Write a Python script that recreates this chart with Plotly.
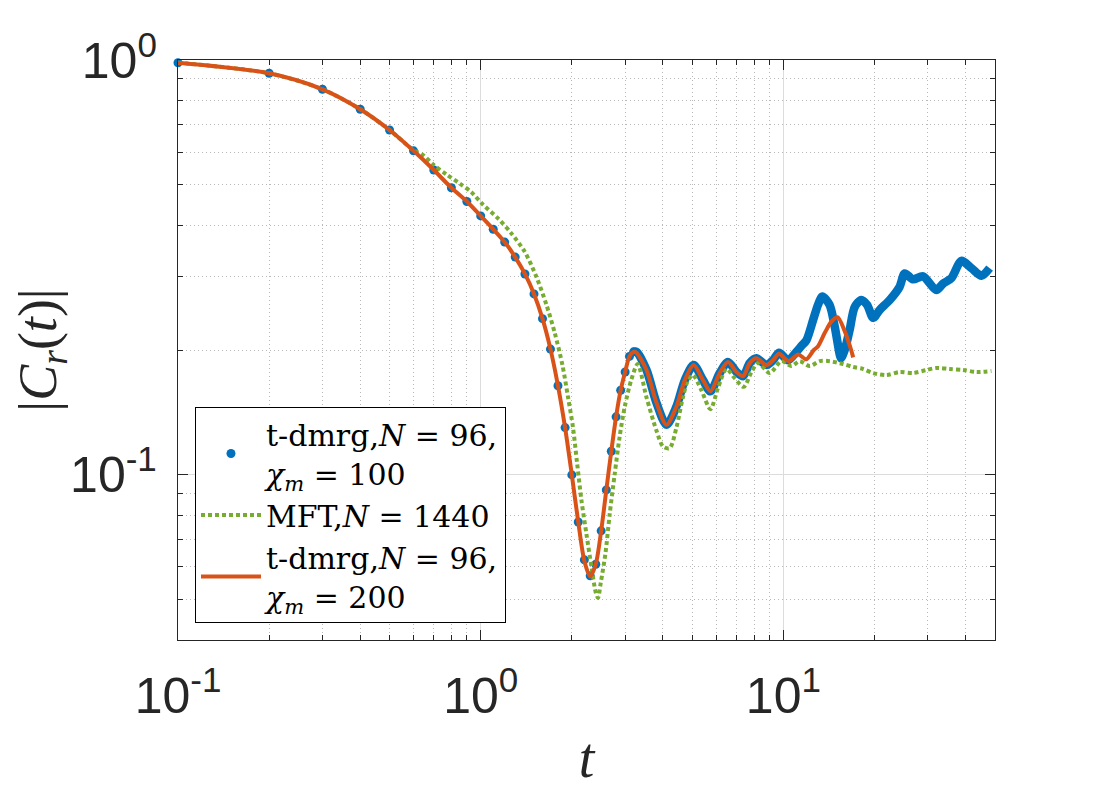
import math
import plotly.graph_objects as go

# t-dmrg, N = 96, chi_m = 100 : individual points (dt = 0.1) up to t = 3.2
dmrg100_t = [0.1, 0.2, 0.3, 0.4, 0.5, 0.6, 0.7, 0.8, 0.9, 1.0,
             1.1, 1.2, 1.3, 1.4, 1.5, 1.6, 1.7, 1.8, 1.9, 2.0,
             2.1, 2.2, 2.3, 2.4, 2.5, 2.6, 2.7, 2.8, 2.9, 3.0,
             3.1, 3.2]
dmrg100_v = [0.985, 0.929, 0.850, 0.761, 0.678, 0.604, 0.543, 0.492, 0.456, 0.421,
             0.391, 0.364, 0.335, 0.305, 0.273, 0.238, 0.201, 0.164, 0.130, 0.100,
             0.077, 0.0624, 0.0571, 0.0609, 0.0733, 0.092, 0.114, 0.138, 0.160, 0.177,
             0.193, 0.198]

# same run, t > 3.2, where the points overlap into a thick band
dmrg100_late_t = [3.2, 3.27, 3.53, 3.81, 4.11, 4.43, 4.72, 5.05, 5.43, 5.74,
                  6.16, 6.56, 7.0, 7.36, 7.74, 8.14, 8.79, 9.24, 9.67, 10.36,
                  11.04, 11.5, 11.91, 12.53, 13.01, 13.45, 14.2, 14.77, 15.35, 15.5,
                  15.94, 16.56, 17.2, 18.1, 18.9, 19.8, 20.81, 22.45, 24.2, 25.17,
                  26.8, 28.92, 32.0, 33.68, 35.89, 38.73, 41.8, 45.1, 48.0]
dmrg100_late_v = [0.198, 0.198, 0.179, 0.149, 0.132, 0.146, 0.169, 0.184, 0.169, 0.159,
                  0.176, 0.187, 0.177, 0.173, 0.186, 0.191, 0.184, 0.189, 0.197, 0.189,
                  0.198, 0.205, 0.211, 0.236, 0.257, 0.269, 0.257, 0.228, 0.195, 0.191,
                  0.200, 0.224, 0.254, 0.264, 0.257, 0.239, 0.250, 0.264, 0.284, 0.306,
                  0.296, 0.301, 0.279, 0.289, 0.298, 0.328, 0.315, 0.302, 0.315]

# MFT, N = 1440
mft_t = [0.1, 0.2, 0.3, 0.4, 0.5, 0.6, 0.645, 0.7, 0.77, 0.852,
         0.932, 1.018, 1.141, 1.263, 1.398, 1.528, 1.649, 1.756, 1.862, 1.943,
         2.018, 2.081, 2.151, 2.235, 2.322, 2.40, 2.44, 2.491, 2.582, 2.669,
         2.772, 2.879, 2.991, 3.147, 3.3, 3.527, 3.805, 4.003, 4.211, 4.431,
         4.659, 4.839, 5.026, 5.359, 5.739, 6.08, 6.482, 6.904, 7.393, 7.84,
         8.245, 9.01, 9.85, 10.63, 11.32, 12.22, 13.18, 14.22, 15.74, 16.98,
         18.32, 19.77, 21.89, 24.23, 26.81, 29.68, 32.03, 35.43, 39.21, 43.42,
         48.66]
mft_v = [0.985, 0.929, 0.850, 0.761, 0.678, 0.606, 0.590, 0.558, 0.530, 0.504,
         0.480, 0.448, 0.415, 0.382, 0.345, 0.300, 0.257, 0.220, 0.184, 0.154,
         0.130, 0.107, 0.087, 0.072, 0.060, 0.052, 0.0505, 0.0548, 0.0646, 0.0807,
         0.1007, 0.124, 0.146, 0.170, 0.185, 0.154, 0.128, 0.117, 0.116, 0.130,
         0.154, 0.169, 0.174, 0.160, 0.144, 0.162, 0.180, 0.171, 0.163, 0.177,
         0.186, 0.176, 0.188, 0.183, 0.188, 0.183, 0.188, 0.188, 0.185, 0.182,
         0.180, 0.176, 0.174, 0.177, 0.176, 0.179, 0.181, 0.180, 0.179, 0.177,
         0.178]

# t-dmrg, N = 96, chi_m = 200
dmrg200_t = [0.1, 0.2, 0.3, 0.4, 0.5, 0.6, 0.7, 0.8, 0.9, 1.0,
             1.1, 1.2, 1.3, 1.4, 1.5, 1.6, 1.7, 1.8, 1.9, 2.0,
             2.1, 2.2, 2.3, 2.4, 2.5, 2.6, 2.7, 2.8, 2.9, 3.0,
             3.1, 3.2, 3.27, 3.53, 3.81, 4.11, 4.43, 4.72, 5.05, 5.43,
             5.74, 6.16, 6.56, 7.0, 7.36, 7.74, 8.14, 8.79, 9.24, 9.67,
             10.4, 11.2, 11.9, 12.6, 13.0, 13.7, 14.4, 15.1, 15.9, 16.6,
             17.0]
dmrg200_v = [0.985, 0.929, 0.850, 0.761, 0.678, 0.604, 0.543, 0.492, 0.456, 0.421,
             0.391, 0.364, 0.335, 0.305, 0.273, 0.238, 0.201, 0.164, 0.130, 0.100,
             0.077, 0.062, 0.0569, 0.061, 0.0733, 0.092, 0.114, 0.138, 0.160, 0.177,
             0.193, 0.198, 0.197, 0.179, 0.149, 0.132, 0.146, 0.169, 0.184, 0.169,
             0.159, 0.176, 0.187, 0.177, 0.173, 0.186, 0.191, 0.184, 0.189, 0.196,
             0.188, 0.195, 0.190, 0.200, 0.204, 0.220, 0.234, 0.240, 0.223, 0.204,
             0.192]

x_ticks = [0.1, 1, 10]
x_ticktext = ["10<sup>-1</sup>", "10<sup>0</sup>", "10<sup>1</sup>"]
y_ticks = [0.1, 1]
y_ticktext = ["10<sup>-1</sup>", "10<sup>0</sup>"]

BLUE = "#0072BD"
RED = "#D95319"
GREEN = "#77AC30"
AXC = "#262626"

x_minor = [m * d for d in (0.1, 1, 10) for m in range(2, 10) if m * d < 50]
y_minor = [0.05, 0.06, 0.07, 0.08, 0.09, 0.2, 0.3, 0.4, 0.5, 0.6, 0.7, 0.8, 0.9]

fig = go.Figure()

fig.add_trace(go.Scatter(
    x=dmrg100_t, y=dmrg100_v, mode="markers",
    marker=dict(color=BLUE, size=9),
    cliponaxis=False,
    name="t-dmrg,<i>N</i> = 96,<br><i>χ<sub>m</sub></i> = 100",
))
fig.add_trace(go.Scatter(
    x=dmrg100_late_t, y=dmrg100_late_v, mode="lines",
    line=dict(color=BLUE, width=8.5, shape="spline", smoothing=0.8),
    showlegend=False,
))
fig.add_trace(go.Scatter(
    x=mft_t, y=mft_v, mode="lines",
    line=dict(color=GREEN, width=4, dash="4px,3px", shape="spline", smoothing=0.8),
    name="MFT,<i>N</i> = 1440",
))
fig.add_trace(go.Scatter(
    x=dmrg200_t, y=dmrg200_v, mode="lines",
    line=dict(color=RED, width=4, shape="spline", smoothing=0.8),
    name="t-dmrg,<i>N</i> = 96,<br><i>χ<sub>m</sub></i> = 200",
))

axis_common = dict(
    showline=True, linecolor=AXC, linewidth=1.3, mirror="allticks",
    ticks="inside", ticklen=10, tickwidth=1, tickcolor=AXC,
    showgrid=True, gridcolor="#dcdcdc", gridwidth=1,
    zeroline=False, automargin=False,
    tickfont=dict(family="Liberation Sans, Arial, sans-serif", size=50, color=AXC),
)

fig.update_xaxes(
    type="log", range=[-1, math.log10(50)],
    tickvals=x_ticks, ticktext=x_ticktext,
    minor=dict(tickvals=x_minor, ticks="inside", ticklen=5, tickcolor=AXC,
               showgrid=True, gridcolor="#b8b8b8", griddash="1px,3px", gridwidth=1),
    ticklabelstandoff=12,
    title=dict(text="<i>t</i>", standoff=14,
               font=dict(family="Liberation Serif, serif", size=56, color=AXC)),
    **axis_common,
)
fig.update_yaxes(
    type="log", range=[math.log10(0.04), 0],
    tickvals=y_ticks, ticktext=y_ticktext,
    minor=dict(tickvals=y_minor, ticks="inside", ticklen=5, tickcolor=AXC,
               showgrid=True, gridcolor="#b8b8b8", griddash="1px,3px", gridwidth=1),
    ticklabelstandoff=10,
    title=dict(text="|<i>C<sub>r</sub></i>(<i>t</i>)|", standoff=10,
               font=dict(family="Liberation Serif, serif", size=54, color=AXC)),
    **axis_common,
)

# the page puts the figure 8 px in from the top-left corner
fig.update_layout(
    width=1100, height=800,
    margin=dict(l=170, r=113, t=52, b=168),
    paper_bgcolor="white", plot_bgcolor="white",
    legend=dict(
        x=0.0208, y=0.0293, xanchor="left", yanchor="bottom",
        bgcolor="white", bordercolor="black", borderwidth=1,
        font=dict(family="DejaVu Serif, serif", size=30, color="black"),
        itemwidth=60, tracegroupgap=0,
    ),
)

fig.write_html("out.html")
